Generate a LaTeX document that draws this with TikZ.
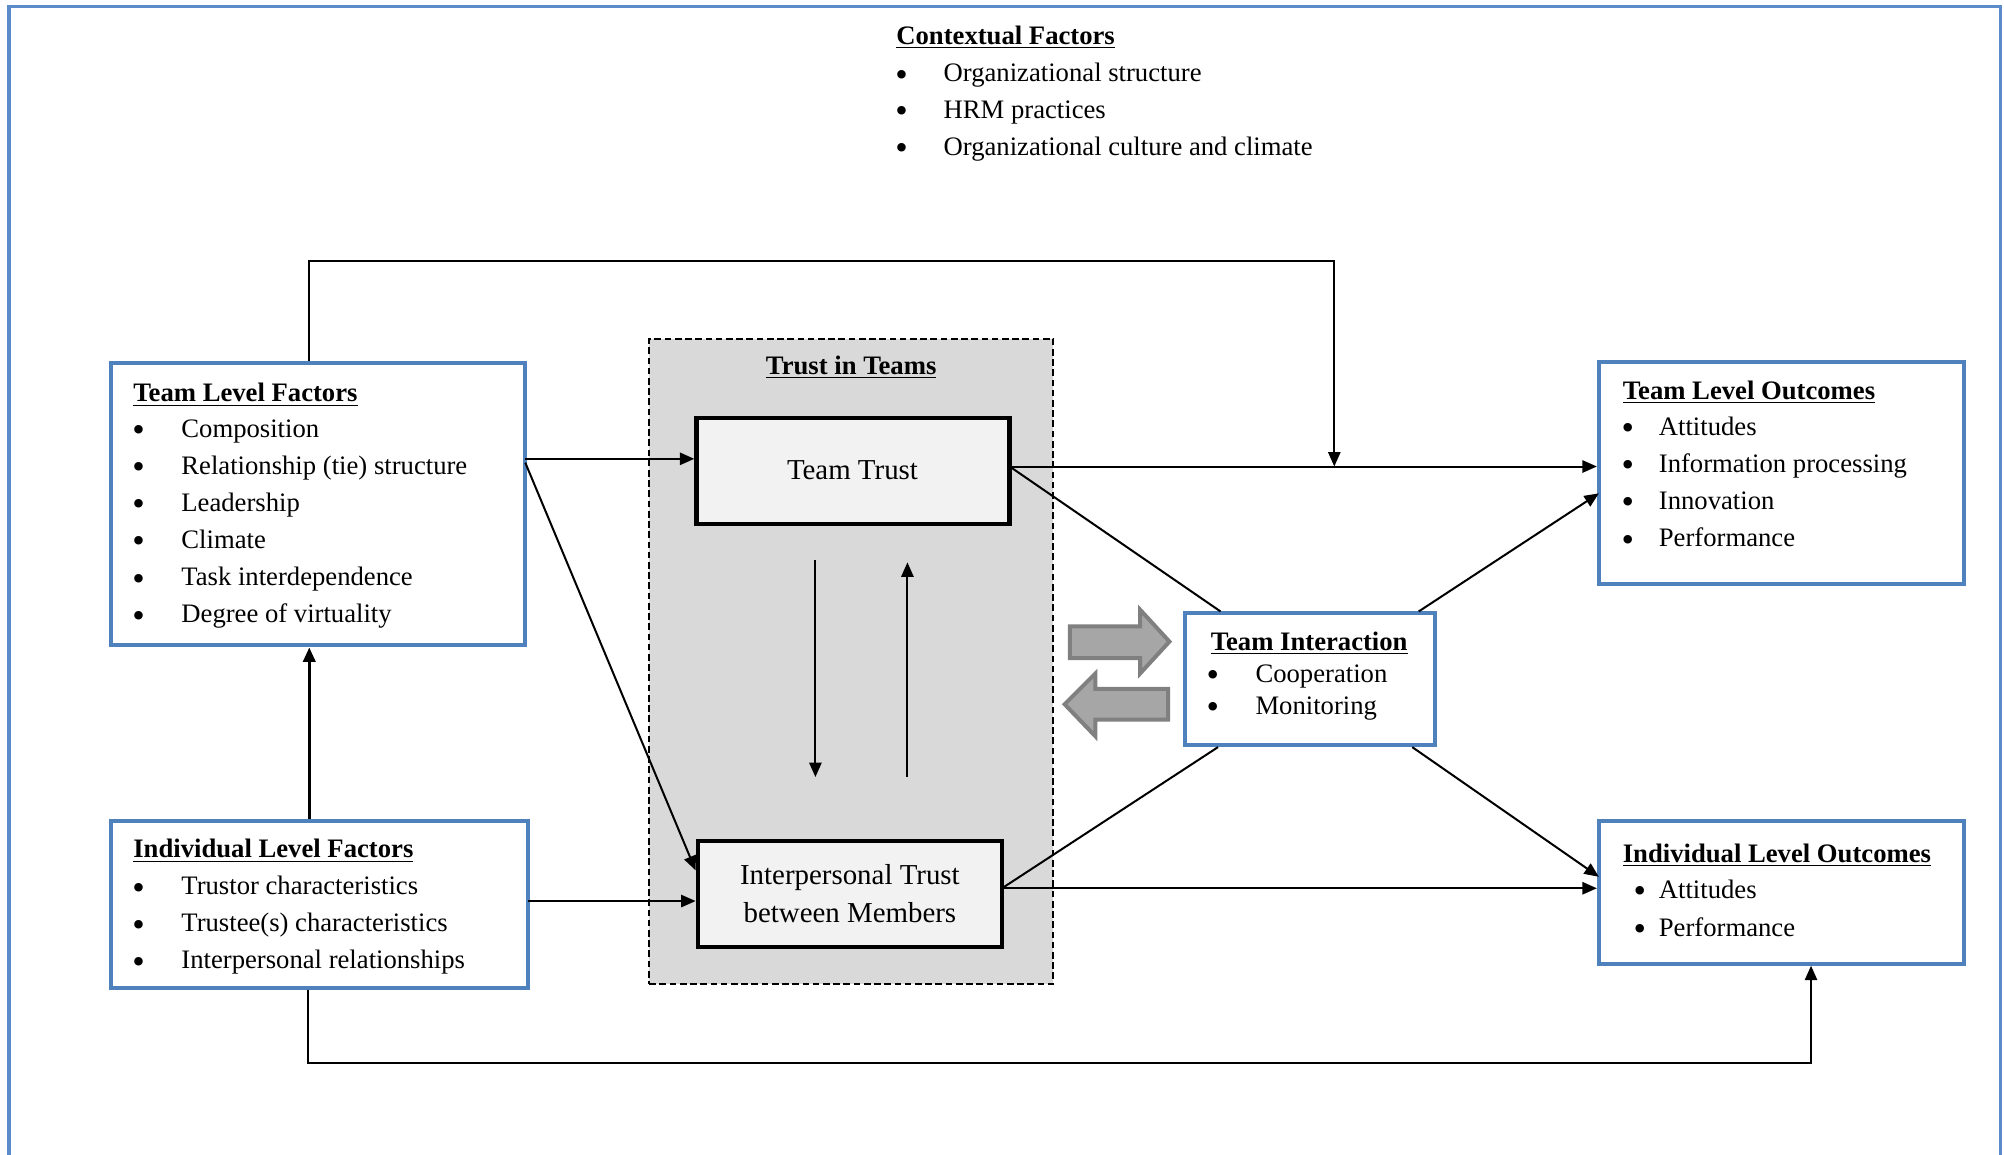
\documentclass[tikz,border=0pt]{standalone}
\usepackage{fontspec}
\setmainfont{Liberation Serif}
\usetikzlibrary{arrows.meta,fit}
\definecolor{boxblue}{HTML}{4F81BD}
\definecolor{frameblue}{HTML}{5B8BCB}
\definecolor{trustgray}{HTML}{D9D9D9}
\definecolor{innerfill}{HTML}{F2F2F2}
\definecolor{blockfill}{HTML}{A6A6A6}
\definecolor{blockedge}{HTML}{808080}
\tikzset{
  bluebox/.style={draw=boxblue, line width=1.8pt, fill=white, inner sep=0pt},
  trustbox/.style={draw=black, line width=2pt, fill=innerfill, inner sep=0pt},
  conn/.style={line width=0.9pt, draw=black},
  arr/.style={conn, -{Triangle[length=6.5pt,width=5.5pt]}},
  txt/.style={anchor=base west, inner sep=0pt, font=\fontsize{12}{14}\selectfont},
  hd/.style={anchor=base west, inner sep=0pt, font=\fontsize{12}{14}\selectfont\bfseries},
  bul/.style={anchor=base, inner sep=0pt, yshift=-2pt, font=\fontsize{16}{16}\selectfont},
  bigtxt/.style={inner sep=0pt, font=\fontsize{13}{17.25}\selectfont, align=center},
  blockarrow/.style={draw=blockedge, fill=blockfill, line width=1.8pt, line join=miter},
}
\begin{document}
\begin{tikzpicture}[x=0.57513pt,y=-0.57513pt]
\useasboundingbox (0,0) rectangle (1568,903);
\path[clip] (0,0) rectangle (1568,903);
\fill[white] (0,0) rectangle (1568,903);
% outer frame
\draw[frameblue, line width=1.5pt] (7,920) -- (7,5) -- (1565,5) -- (1565,920);

% Contextual factors
\node[hd] (cfh) at (701,34.6) {\underline{Contextual Factors}};
\foreach \t [count=\i] in {Organizational structure, HRM practices, Organizational culture and climate}{
  \node[bul] (cfb\i) at (705.5,{63.9+28.7*(\i-1)}) {\textbullet};
  \node[txt] (cft\i) at (738,{63.9+28.7*(\i-1)}) {\t};
}

% Trust in Teams container
\node[draw, dashed, dash pattern=on 3pt off 1.6pt, line width=0.9pt, fill=trustgray, inner sep=0pt, fit={(508,265)(824,770)}] (tit) {};
\node[hd, anchor=base] (tith) at (666,293) {\underline{Trust in Teams}};
\node[trustbox, fit={(545,327)(790,410)}] (tt) {};
\node[bigtxt] (ttt) at (667,368) {Team Trust};
\node[trustbox, fit={(546,658)(784,741)}] (itm) {};
\node[bigtxt] (itmt) at (665,699) {Interpersonal Trust\\between Members};

% blue boxes
\node[bluebox, fit={(87,284)(411,505)}] (tlf) {};
\node[bluebox, fit={(87,642)(413,773)}] (ilf) {};
\node[bluebox, fit={(927,480)(1123,583)}] (ti) {};
\node[bluebox, fit={(1251,283)(1537,457)}] (tlo) {};
\node[bluebox, fit={(1251,642)(1537,754)}] (ilo) {};

% Team level factors text
\node[hd] (tlfh) at (104,314.3) {\underline{Team Level Factors}};
\foreach \t [count=\i] in {Composition, Relationship (tie) structure, Leadership, Climate, Task interdependence, Degree of virtuality}{
  \node[bul] (tlfb\i) at (108.5,{342+29.05*(\i-1)}) {\textbullet};
  \node[txt] (tlft\i) at (141.6,{342+29.05*(\i-1)}) {\t};
}
% Individual level factors text
\node[hd] (ilfh) at (104,671) {\underline{Individual Level Factors}};
\foreach \t [count=\i] in {Trustor characteristics, Trustee(s) characteristics, Interpersonal relationships}{
  \node[bul] (ilfb\i) at (108.5,{700+29*(\i-1)}) {\textbullet};
  \node[txt] (ilft\i) at (141.6,{700+29*(\i-1)}) {\t};
}
% Team interaction text
\node[hd] (tih) at (947,509) {\underline{Team Interaction}};
\foreach \t [count=\i] in {Cooperation, Monitoring}{
  \node[bul] (tib\i) at (949,{534+25*(\i-1)}) {\textbullet};
  \node[txt] (tit\i) at (982,{534+25*(\i-1)}) {\t};
}
% Team level outcomes text
\node[hd] (tloh) at (1269.4,312.5) {\underline{Team Level Outcomes}};
\foreach \t [count=\i] in {Attitudes, Information processing, Innovation, Performance}{
  \node[bul] (tlob\i) at (1273.6,{340.4+29.1*(\i-1)}) {\textbullet};
  \node[txt] (tlot\i) at (1297.6,{340.4+29.1*(\i-1)}) {\t};
}
% Individual level outcomes text
\node[hd] (iloh) at (1269.4,674.5) {\underline{Individual Level Outcomes}};
\foreach \t [count=\i] in {Attitudes, Performance}{
  \node[bul] (ilob\i) at (1283,{703+29.4*(\i-1)}) {\textbullet};
  \node[txt] (ilot\i) at (1297.6,{703+29.4*(\i-1)}) {\t};
}

% helper coordinates
\coordinate (topL) at (242,204);
\coordinate (topR) at (1044,204);
\coordinate (topEnd) at (1044,365);
\coordinate (botL) at (241,832);
\coordinate (botR) at (1417,832);
\coordinate (a1) at (411,359);
\coordinate (d1) at (411,362);
\coordinate (d2) at (546,681);
\coordinate (c1) at (413,705);
\coordinate (e1) at (790,365);
\coordinate (f1) at (955,480);
\coordinate (g1) at (784,695);
\coordinate (g2) at (953,583);
\coordinate (h1) at (1110,480);
\coordinate (h2) at (1251,386);
\coordinate (k1) at (1105,583);
\coordinate (k2) at (1251,686);
\coordinate (v1s) at (638,438);
\coordinate (v1e) at (638,608);
\coordinate (v2s) at (710,608);
\coordinate (v2e) at (710,440);

% connectors
\draw[arr] (tlf.north -| topL) -- (topL) -- (topR) -- (topEnd);
\draw[arr, line width=1.4pt] (ilf.north -| topL) -- (tlf.south -| topL);
\draw[arr] (ilf.south -| botL) -- (botL) -- (botR) -- (ilo.south -| botR);
\draw[arr] (a1) -- (tt.west |- a1);
\draw[arr] (d1) -- (itm.west |- d2);
\draw[arr] (c1) -- (itm.west |- c1);
\draw[arr] (e1) -- (tlo.west |- e1);
\draw[conn] (e1) -- (ti.north -| f1);
\draw[conn] (g1) -- (ti.south -| g2);
\draw[arr] (g1) -- (ilo.west |- g1);
\draw[arr] (ti.north -| h1) -- (h2);
\draw[arr] (ti.south -| k1) -- (k2);
\draw[arr] (v1s) -- (v1e);
\draw[arr] (v2s) -- (v2e);

% block arrows
\draw[blockarrow] (837,490) -- (892,490) -- (892,477) -- (915,502) -- (892,527) -- (892,515) -- (837,515) -- cycle;
\draw[blockarrow] (914,539) -- (857,539) -- (857,527) -- (833,551) -- (857,576) -- (857,563) -- (914,563) -- cycle;
\end{tikzpicture}
\end{document}
